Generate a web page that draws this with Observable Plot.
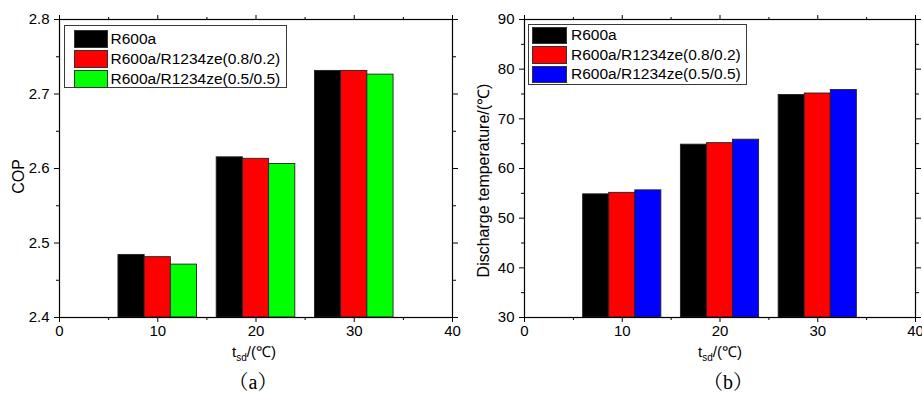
<!DOCTYPE html>
<html>
<head>
<meta charset="utf-8">
<script src="https://cdn.jsdelivr.net/npm/d3@7"></script>
<script src="https://cdn.jsdelivr.net/npm/@observablehq/plot@0.6"></script>
<style>
  html, body { margin: 0; padding: 0; background: #fff; }
  #wrap { position: relative; width: 922px; height: 393px; overflow: hidden; font-family: "Liberation Sans", Arial, sans-serif; }
  .panel { position: absolute; top: 0; width: 461px; height: 393px; }
  .panel svg { position: absolute; left: 0; top: 0; }
  .legend { position: absolute; box-sizing: border-box; border: 1px solid #3a3a3a; background: #fff; }
  .legend .sw { position: absolute; box-sizing: border-box; border: 1px solid #333; }
  .legend .lt { position: absolute; font-size: 15.5px; white-space: nowrap; color: #000; }
</style>
</head>
<body>
<div id="wrap">
  <div class="panel" id="pa" style="left:0px"></div>
  <div class="panel" id="pb" style="left:461px"></div>
</div>
<script>
// ---------- data ----------
const categories = [10, 20, 30];                // t_sd (℃)
const seriesNames = ["R600a", "R600a/R1234ze(0.8/0.2)", "R600a/R1234ze(0.5/0.5)"];

// (a) COP
const copR600a = [2.484, 2.615, 2.731];
const copMix82 = [2.481, 2.613, 2.731];
const copMix55 = [2.471, 2.606, 2.726];

// (b) Discharge temperature (℃)
const tdR600a = [54.8, 64.8, 74.8];
const tdMix82 = [55.1, 65.1, 75.1];
const tdMix55 = [55.6, 65.8, 75.8];

const colorsA = ["#000000", "#ff0000", "#00ff00"];
const colorsB = ["#000000", "#ff0000", "#0000ff"];

// tick labels
const xTicks = [0, 10, 20, 30, 40];
const xMinor = [5, 15, 25, 35];
const yTicksA = [2.4, 2.5, 2.6, 2.7, 2.8];
const yMinorA = [2.45, 2.55, 2.65, 2.75];
const yTicksB = [30, 40, 50, 60, 70, 80, 90];
const yMinorB = [35, 45, 55, 65, 75, 85];

const xLabel = "tsd/(℃)";
const yLabelA = "COP";
const yLabelB = "Discharge temperature/(℃)";
const captions = ["（a）", "（b）"];

// ---------- helpers ----------
const groupWidth = 8; // bar group spans 8 x-units centred on each category
function rows(seriesArrays) {
  const out = [];
  seriesArrays.forEach((arr, i) => {
    arr.forEach((v, j) => out.push({t: categories[j], series: seriesNames[i], idx: i, value: v}));
  });
  return out;
}

function panel(opts) {
  const data = rows(opts.series);
  const n = opts.series.length;
  const bw = groupWidth / n;
  const y0 = opts.yDomain[0];
  const blank = () => "";
  const fs = 15;
  const svg = Plot.plot({
    width: 461,
    height: 393,
    marginTop: 19,
    marginBottom: 76,
    marginLeft: opts.marginLeft,
    marginRight: opts.marginRight,
    style: {fontFamily: "Liberation Sans, Arial, sans-serif", fontSize: "15px", color: "#000", background: "#fff"},
    x: {domain: [0, 40], label: null},
    y: {domain: opts.yDomain, label: null},
    color: {domain: seriesNames, range: opts.colors},
    marks: [
      Plot.rectY(data, {
        x1: d => d.t - groupWidth / 2 + d.idx * bw,
        x2: d => d.t - groupWidth / 2 + (d.idx + 1) * bw,
        y1: y0,
        y2: "value",
        fill: "series",
        stroke: "#222",
        strokeWidth: 0.9,
        inset: 0
      }),
      Plot.frame({stroke: "#000", strokeWidth: 1.2}),
      Plot.axisX({ticks: xTicks, tickSize: 5, tickPadding: 3, label: null, fontSize: fs, tickFormat: d3.format("d")}),
      Plot.axisX({ticks: xMinor, tickSize: 3, label: null, tickFormat: blank}),
      Plot.axisX({anchor: "top", ticks: xTicks, tickSize: 5, label: null, tickFormat: blank}),
      Plot.axisX({anchor: "top", ticks: xMinor, tickSize: 3, label: null, tickFormat: blank}),
      Plot.axisY({ticks: opts.yTicks, tickSize: 5, tickPadding: 5, label: null, fontSize: fs, tickFormat: opts.yFormat}),
      Plot.axisY({ticks: opts.yMinor, tickSize: 3, label: null, tickFormat: blank}),
      Plot.axisY({anchor: "right", ticks: opts.yTicks, tickSize: 5, label: null, tickFormat: blank}),
      Plot.axisY({anchor: "right", ticks: opts.yMinor, tickSize: 3, label: null, tickFormat: blank}),
      Plot.text([opts.yLabel], {
        text: d => d, frameAnchor: "left", rotate: -90, dx: -41, dy: opts.labelDy,
        textAnchor: "middle", lineAnchor: "middle", fontSize: 16, fill: "#000"
      }),
      Plot.text([xLabel], {
        text: d => d, frameAnchor: "bottom", dx: opts.xTitleDx, dy: 35,
        textAnchor: "middle", lineAnchor: "middle", fontSize: 15, fill: "#000"
      }),
      Plot.text([opts.caption], {
        text: d => d, frameAnchor: "bottom", dx: opts.captionDx, dy: 65,
        textAnchor: "middle", lineAnchor: "middle", fontSize: 20, fill: "#000",
        fontFamily: "Liberation Serif, Noto Serif CJK SC, Noto Sans CJK SC, serif"
      })
    ]
  });
  // subscript for the x-axis title
  d3.select(svg).selectAll("text").each(function () {
    if (this.textContent === xLabel) {
      const sel = d3.select(this);
      sel.text(null);
      sel.append("tspan").text("t");
      sel.append("tspan").attr("dy", 4).attr("font-size", 10).text("sd");
      sel.append("tspan").attr("dy", -4).text("/(℃)");
    }
  });
  return svg;
}

function legend(container, L, colors) {
  const box = document.createElement("div");
  box.className = "legend";
  Object.assign(box.style, {left: L.left + "px", top: L.top + "px", width: L.width + "px", height: L.height + "px"});
  seriesNames.forEach((name, i) => {
    const sw = document.createElement("div");
    sw.className = "sw";
    Object.assign(sw.style, {left: L.swLeft + "px", top: (L.swTop + i * L.step) + "px",
      width: L.swW + "px", height: L.swH + "px", background: colors[i]});
    box.appendChild(sw);
    const t = document.createElement("div");
    t.className = "lt";
    t.textContent = name;
    Object.assign(t.style, {left: L.textLeft + "px", top: (L.swTop + i * L.step + L.swH / 2 - 9) + "px", lineHeight: "18px"});
    box.appendChild(t);
  });
  container.appendChild(box);
}

// ---------- panel (a) ----------
const pa = document.getElementById("pa");
pa.appendChild(panel({
  series: [copR600a, copMix82, copMix55], colors: colorsA,
  yDomain: [2.4, 2.8], yTicks: yTicksA, yMinor: yMinorA, yFormat: d3.format(".1f"),
  yLabel: yLabelA, labelDy: 8, marginLeft: 59, marginRight: 9,
  caption: captions[0], xTitleDx: -2, captionDx: -3
}));
legend(pa, {left: 63.5, top: 24.5, width: 223, height: 63, swLeft: 9, swTop: 4, step: 20, swW: 34, swH: 18, textLeft: 46}, colorsA);

// ---------- panel (b) ----------
const pb = document.getElementById("pb");
pb.appendChild(panel({
  series: [tdR600a, tdMix82, tdMix55], colors: colorsB,
  yDomain: [30, 90], yTicks: yTicksB, yMinor: yMinorB, yFormat: d3.format("d"),
  yLabel: yLabelB, labelDy: 12, marginLeft: 63, marginRight: 7,
  caption: captions[1], xTitleDx: 0, captionDx: 8
}));
legend(pb, {left: 67, top: 24, width: 219, height: 61, swLeft: 3, swTop: 1.5, step: 19.6, swW: 35, swH: 17.5, textLeft: 42}, colorsB);
</script>
</body>
</html>
